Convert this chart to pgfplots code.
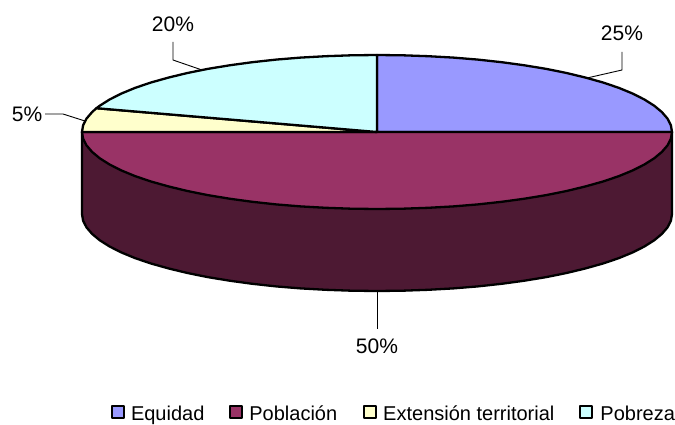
\documentclass[border=0pt]{standalone}
\usepackage{fontspec}
\setmainfont{Liberation Sans}
\usepackage{pgfplots}
\pgfplotsset{compat=1.18}

\definecolor{equidad}{HTML}{9999FF}
\definecolor{poblacion}{HTML}{993366}
\definecolor{extension}{HTML}{FFFFCC}
\definecolor{pobreza}{HTML}{CCFFFF}
\definecolor{lateral}{HTML}{4D1933}

\begin{document}
\begin{tikzpicture}
% keeps the whole page, hide axis would trim it
\useasboundingbox (0,0) rectangle (675pt,424pt);
\begin{axis}[
    at={(0,0)}, anchor=south west,
    scale only axis,
    width=675pt,
    height=424pt,
    xmin=0, xmax=675,
    ymin=0, ymax=424,
    hide axis,
    clip=false,
    legend columns=4,
    legend cell align=left,
    legend style={
        draw=none, fill=none, inner sep=0pt, outer sep=0pt,
        at={(axis cs:111,0)}, anchor=south west,
        font=\fontsize{20}{23}\selectfont,
        /tikz/column 1/.style={column sep=4pt},
        /tikz/column 3/.style={column sep=4pt},
        /tikz/column 5/.style={column sep=4pt},
        /tikz/column 7/.style={column sep=5pt},
        /tikz/column 2/.style={column sep=23pt},
        /tikz/column 4/.style={column sep=24pt},
        /tikz/column 6/.style={column sep=23pt},
    },
    legend image code/.code={
        \draw[#1, line width=2pt] (0pt,-4pt) rectangle (12pt,8pt);
    },
]
% side of the pie
\addplot[forget plot, fill=lateral, draw=black, line width=2.3pt, line join=round] coordinates {
    (82,292) (82,210) (83.1,203.3) (86.5,196.6) (92.1,190.1) (99.8,183.7) (109.6,177.5)
    (121.5,171.5) (135.3,165.8) (151.0,160.5) (168.4,155.6) (187.4,151.0) (207.8,146.9)
    (229.5,143.3) (252.3,140.2) (276.1,137.6) (300.6,135.6) (325.8,134.2) (351.3,133.3)
    (377,133) (402.7,133.3) (428.2,134.2) (453.4,135.6) (477.9,137.6) (501.7,140.2)
    (524.5,143.3) (546.2,146.9) (566.6,151.0) (585.6,155.6) (603.0,160.5) (618.7,165.8)
    (632.5,171.5) (644.4,177.5) (654.2,183.7) (661.9,190.1) (667.5,196.6) (670.9,203.3)
    (672,210) (672,292)
} -- cycle;

% Equidad 25
\addplot[fill=equidad, draw=black, line width=2.3pt, line join=round] coordinates {
    (377,292) (377,369) (402.7,368.7) (428.2,367.8) (453.4,366.4) (477.9,364.4) (501.7,361.8)
    (524.5,358.7) (546.2,355.1) (566.6,351.0) (585.6,346.4) (603.0,341.5) (618.7,336.2)
    (632.5,330.5) (644.4,324.5) (654.2,318.3) (661.9,311.9) (667.5,305.4) (670.9,298.7)
    (672,292)
} -- cycle;
\addlegendentry{Equidad}

% Poblacion 50
\addplot[fill=poblacion, draw=black, line width=2.3pt, line join=round] coordinates {
    (672,292) (670.9,285.3) (667.5,278.6) (661.9,272.1) (654.2,265.7) (644.4,259.5)
    (632.5,253.5) (618.7,247.8) (603.0,242.5) (585.6,237.6) (566.6,233.0) (546.2,228.9)
    (524.5,225.3) (501.7,222.2) (477.9,219.6) (453.4,217.6) (428.2,216.2) (402.7,215.3)
    (377,215) (351.3,215.3) (325.8,216.2) (300.6,217.6) (276.1,219.6) (252.3,222.2)
    (229.5,225.3) (207.8,228.9) (187.4,233.0) (168.4,237.6) (151.0,242.5) (135.3,247.8)
    (121.5,253.5) (109.6,259.5) (99.8,265.7) (92.1,272.1) (86.5,278.6) (83.1,285.3)
    (82,292)
} -- cycle;
\addlegendentry{Población}

% Extension 5
\addplot[fill=extension, draw=black, line width=2.3pt, line join=round] coordinates {
    (377,292) (96.4,315.8) (92.1,311.9) (86.5,305.4) (83.1,298.7) (82,292)
} -- cycle;
\addlegendentry{Extensión territorial}

% Pobreza 20
\addplot[fill=pobreza, draw=black, line width=2.3pt, line join=round] coordinates {
    (377,292) (377,369) (351.3,368.7) (325.8,367.8) (300.6,366.4) (276.1,364.4) (252.3,361.8)
    (229.5,358.7) (207.8,355.1) (187.4,351.0) (168.4,346.4) (151.0,341.5) (135.3,336.2)
    (121.5,330.5) (109.6,324.5) (99.8,318.3) (96.4,315.8)
} -- cycle;
\addlegendentry{Pobreza}

% leader lines
\addplot[forget plot, black, line width=0.9pt] coordinates {(622,372) (622,354) (587,346)};
\addplot[forget plot, black, line width=0.9pt] coordinates {(173,382) (173,364) (202,354)};
\addplot[forget plot, black, line width=0.9pt] coordinates {(45,310) (63,310) (85,303)};
\addplot[forget plot, black, line width=0.9pt] coordinates {(377,133) (377,95)};

\node[font=\fontsize{21}{24}\selectfont] at (axis cs:622,391) {25\%};
\node[font=\fontsize{21}{24}\selectfont] at (axis cs:173,400) {20\%};
\node[font=\fontsize{21}{24}\selectfont] at (axis cs:27,310) {5\%};
\node[font=\fontsize{21}{24}\selectfont] at (axis cs:377,78) {50\%};
\end{axis}
\end{tikzpicture}
\end{document}
